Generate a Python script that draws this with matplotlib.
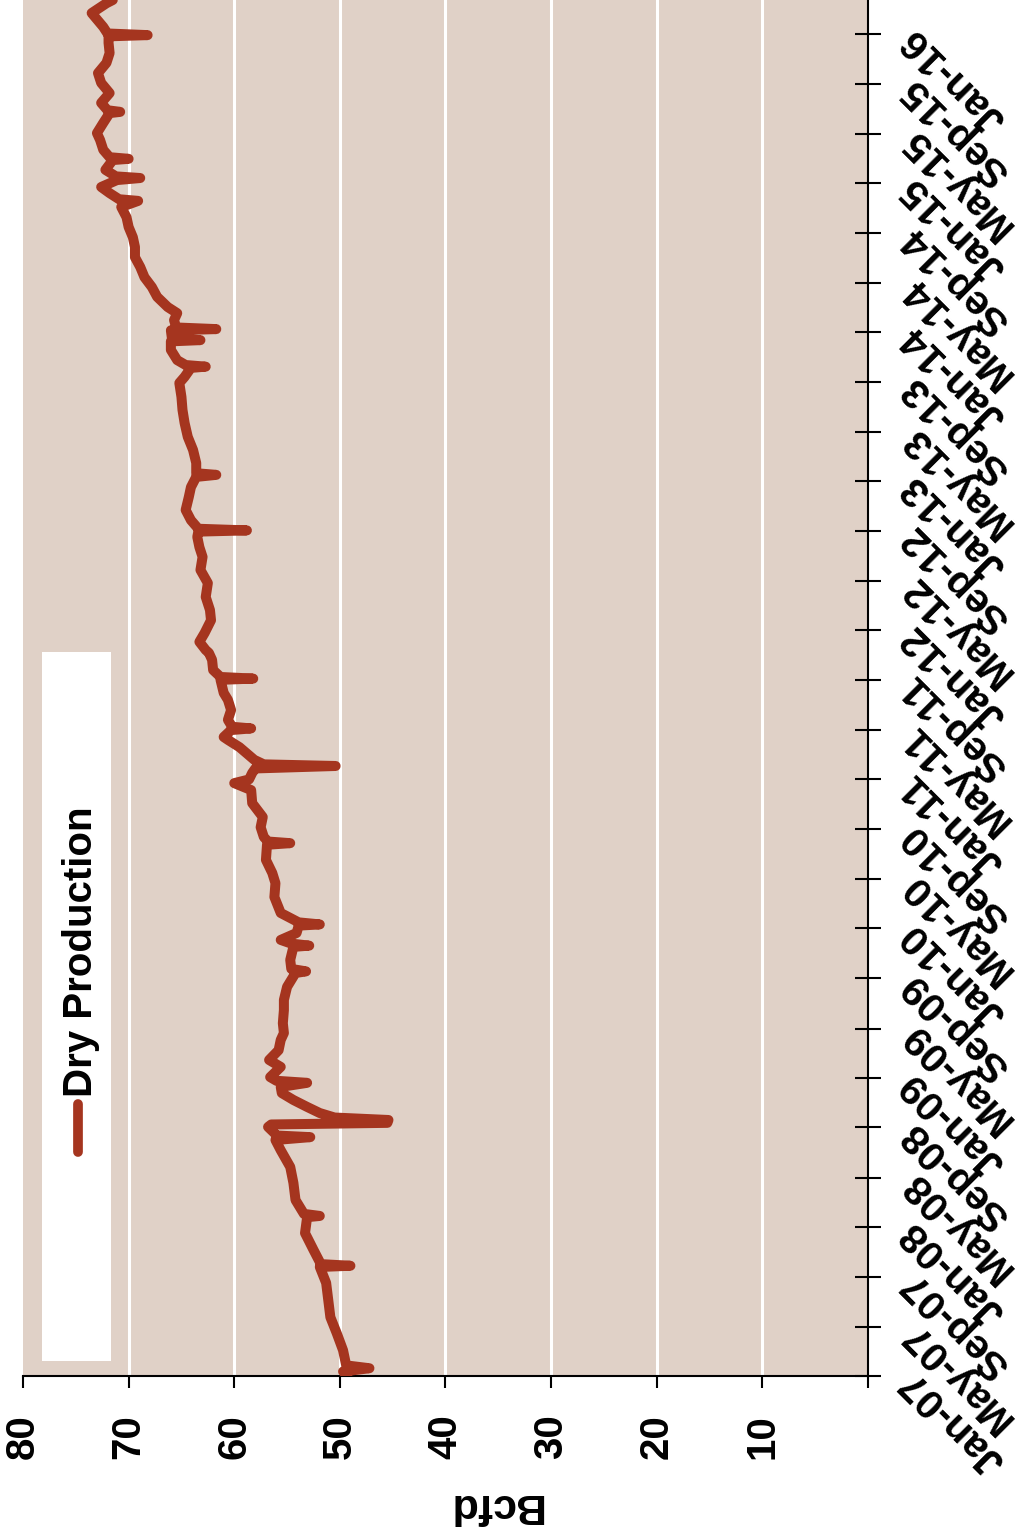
import pandas as pd
import matplotlib
matplotlib.use('Agg')
import matplotlib.pyplot as plt
import matplotlib.dates as mdates
from matplotlib.patches import Rectangle
from matplotlib.lines import Line2D

plt.rcParams['font.family'] = ['Liberation Sans', 'DejaVu Sans']
plt.rcParams['font.weight'] = 'bold'

# daily dry gas production (Bcfd)
dates = [
    "2007-01-01", "2007-01-12", "2007-01-20", "2007-01-27", "2007-03-05", "2007-04-16",
    "2007-05-25", "2007-07-06", "2007-08-17", "2007-09-25", "2007-09-28", "2007-10-02",
    "2007-11-06", "2007-12-17", "2008-01-25", "2008-01-28", "2008-02-02", "2008-03-07",
    "2008-04-18", "2008-05-27", "2008-07-07", "2008-08-01", "2008-08-08", "2008-08-12",
    "2008-08-18", "2008-09-02", "2008-09-08", "2008-09-12", "2008-09-19", "2008-09-25",
    "2008-10-06", "2008-10-21", "2008-11-07", "2008-11-24", "2008-12-09", "2008-12-19",
    "2008-12-24", "2009-01-02", "2009-01-27", "2009-02-13", "2009-03-09", "2009-04-03",
    "2009-04-20", "2009-05-14", "2009-06-15", "2009-07-10", "2009-08-11", "2009-09-14",
    "2009-09-18", "2009-09-24", "2009-10-16", "2009-11-17", "2009-11-20", "2009-11-25",
    "2009-12-04", "2009-12-21", "2010-01-08", "2010-01-11", "2010-01-16", "2010-02-08",
    "2010-03-19", "2010-04-22", "2010-05-17", "2010-06-18", "2010-07-25", "2010-07-29",
    "2010-08-02", "2010-08-13", "2010-09-06", "2010-10-01", "2010-11-04", "2010-12-06",
    "2010-12-23", "2011-01-01", "2011-01-17", "2011-01-28", "2011-02-03", "2011-02-07",
    "2011-02-18", "2011-03-21", "2011-04-08", "2011-04-15", "2011-05-02", "2011-05-06",
    "2011-05-10", "2011-05-27", "2011-06-20", "2011-07-15", "2011-08-01", "2011-09-02",
    "2011-09-05", "2011-09-09", "2011-09-26", "2011-10-21", "2011-11-07", "2011-11-14",
    "2011-12-04", "2011-12-26", "2012-01-26", "2012-02-20", "2012-03-23", "2012-04-26",
    "2012-05-28", "2012-06-29", "2012-07-23", "2012-08-17", "2012-08-30", "2012-09-02",
    "2012-09-06", "2012-09-27", "2012-10-22", "2012-11-23", "2012-12-17", "2013-01-11",
    "2013-01-16", "2013-01-20", "2013-02-14", "2013-03-18", "2013-04-19", "2013-05-23",
    "2013-06-24", "2013-07-26", "2013-08-29", "2013-09-13", "2013-10-05", "2013-10-08",
    "2013-10-12", "2013-10-24", "2013-11-18", "2013-12-09", "2013-12-12", "2013-12-16",
    "2014-01-05", "2014-01-08", "2014-01-12", "2014-01-30", "2014-02-16", "2014-03-03",
    "2014-03-28", "2014-04-21", "2014-05-15", "2014-06-09", "2014-07-03", "2014-07-28",
    "2014-08-21", "2014-09-15", "2014-10-09", "2014-11-03", "2014-11-18", "2014-11-22",
    "2014-12-07", "2014-12-22", "2015-01-08", "2015-01-13", "2015-01-17", "2015-02-02",
    "2015-02-26", "2015-03-01", "2015-03-05", "2015-03-23", "2015-04-16", "2015-05-03",
    "2015-05-28", "2015-06-21", "2015-06-24", "2015-06-28", "2015-07-16", "2015-08-09",
    "2015-09-03", "2015-09-27", "2015-10-22", "2015-11-15", "2015-12-10", "2015-12-26",
    "2015-12-29", "2016-01-02", "2016-01-18", "2016-02-21", "2016-03-16", "2016-03-24",
]
bcfd = [
    49.3, 49.7, 47.2, 49.4, 49.7, 50.3,
    50.9, 51.1, 51.3, 51.9, 49.0, 51.8,
    52.5, 53.3, 53.1, 51.9, 53.4, 54.2,
    54.4, 54.7, 55.6, 56.1, 52.8, 56.0,
    56.2, 56.8, 56.5, 45.5, 45.4, 50.5,
    51.9, 53.1, 54.4, 55.5, 55.6, 53.1,
    56.0, 56.6, 55.6, 56.7, 55.8, 55.6,
    55.3, 55.4, 55.3, 55.3, 55.0, 54.2,
    53.2, 54.6, 54.7, 54.4, 52.9, 54.6,
    55.6, 54.1, 53.9, 51.9, 53.9, 55.6,
    56.2, 56.1, 56.4, 57.0, 56.9, 54.7,
    56.8, 57.2, 57.5, 57.3, 58.3, 58.4,
    60.0, 58.6, 58.3, 58.0, 50.4, 57.2,
    58.1, 59.5, 60.6, 61.0, 60.3, 58.4,
    60.2, 60.6, 60.3, 60.6, 61.0, 61.3,
    58.2, 61.3, 62.0, 62.1, 62.4, 62.7,
    63.3, 62.8, 62.2, 62.3, 62.7, 62.5,
    63.2, 63.0, 63.3, 63.5, 63.4, 58.8,
    63.4, 64.1, 64.6, 64.3, 64.1, 63.6,
    61.7, 63.6, 63.6, 63.9, 64.4, 64.7,
    64.9, 65.0, 65.2, 64.7, 64.1, 62.7,
    64.6, 65.4, 66.0, 66.0, 63.2, 65.9,
    66.0, 61.7, 65.5, 65.7, 65.4, 66.3,
    67.3, 67.8, 68.5, 68.9, 69.4, 69.4,
    69.6, 70.0, 70.2, 70.7, 69.1, 70.9,
    71.8, 72.6, 71.1, 68.9, 71.2, 72.2,
    71.5, 70.0, 71.8, 72.4, 72.7, 73.0,
    72.4, 71.8, 70.8, 72.0, 72.6, 71.8,
    72.6, 72.9, 72.1, 71.8, 71.9, 71.9,
    68.2, 72.0, 72.4, 73.5, 72.1, 71.5,
]

value_ticks = [0, 10, 20, 30, 40, 50, 60, 70, 80]
series_name = 'Dry Production'
axis_title = 'Bcfd'

line_color = '#A5351F'
bg_color = '#E0D1C7'

d = pd.to_datetime(dates)

fig = plt.figure(figsize=(10.29, 15.34), dpi=100)
ax = fig.add_axes([23 / 1029, 158 / 1534, 845 / 1029, 1376 / 1534])
ax.set_facecolor(bg_color)

ax.plot(bcfd, d, color=line_color, lw=7.2, solid_joinstyle='round',
        solid_capstyle='round', zorder=3)

# chart is turned on its side: values run right to left, dates bottom to top
ax.set_xlim(80, 0)
ax.set_ylim(pd.Timestamp('2007-01-01'), pd.Timestamp('2016-03-24'))

ax.set_xticks(value_ticks)
ax.set_xticklabels(['' if v == 0 else str(v) for v in value_ticks])
ax.tick_params(axis='x', direction='out', length=8.6, width=1.5, pad=19,
               labelsize=29, labelrotation=90)
for v in value_ticks[1:-1]:
    ax.axvline(v, color='white', lw=2.2, zorder=1)

ax.yaxis.tick_right()
ax.yaxis.set_major_locator(mdates.MonthLocator(bymonth=[1, 5, 9]))
ax.yaxis.set_major_formatter(mdates.DateFormatter('%b-%y'))
ax.tick_params(axis='y', direction='inout', length=18.5, width=1.5, pad=19,
               labelsize=29.5)
for lab in ax.get_yticklabels():
    lab.set_rotation(135)
    lab.set_rotation_mode('anchor')
    lab.set_ha('right')
    lab.set_va('center')
    lab.set_fontweight('bold')
for lab in ax.get_xticklabels():
    lab.set_fontweight('bold')

for s in ['top', 'left']:
    ax.spines[s].set_visible(False)
ax.spines['bottom'].set_linewidth(1.5)
ax.spines['right'].set_linewidth(1.5)

ax.set_xlabel(axis_title, fontsize=31, fontweight='bold', rotation=180,
              ha='center', va='center')
ax.xaxis.set_label_coords((494 - 23) / 845, -0.094)

# legend box drawn by hand so it can lie on its side like the rest
ax.add_patch(Rectangle((0.0225, 0.011), 0.0815, 0.515, transform=ax.transAxes,
                       facecolor='white', edgecolor='none', zorder=4))
ax.add_line(Line2D([0.0651, 0.0651], [0.163, 0.198], transform=ax.transAxes,
                   color=line_color, lw=7, solid_capstyle='round', zorder=5))
ax.text(0.0813, 0.203, series_name, transform=ax.transAxes, rotation=90,
        rotation_mode='anchor', ha='left', va='baseline', fontsize=29,
        fontweight='bold', zorder=5)

fig.savefig('out.png', dpi=100)
